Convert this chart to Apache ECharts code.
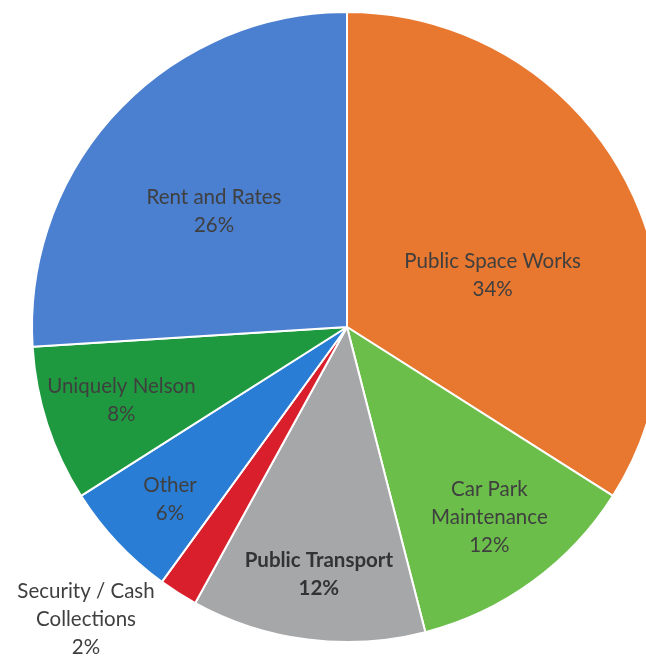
<!DOCTYPE html>
<html>
<head>
<meta charset="utf-8">
<script src="https://cdn.jsdelivr.net/npm/echarts@6/dist/echarts.min.js"></script>
<style>
html,body{margin:0;padding:0;background:#fff;}
#c{width:646px;height:656px;}
</style>
</head>
<body>
<div id="c"></div>
<script>
var categories = ['Public Space Works', 'Car Park\nMaintenance', 'Public Transport', 'Security / Cash\nCollections', 'Other', 'Uniquely Nelson', 'Rent and Rates'];
var values = [34, 12, 12, 2, 6, 8, 26];
var colors = ['#E8772F', '#6CBE4A', '#A6A7A9', '#D81F2B', '#2A7DD4', '#1F993F', '#4B7FCF'];
var labelOffsets = [[5, 26], [48, 61], [-8, 88], [-175, 157], [-60, 63], [-73, 24], [-16, -6]];
var boldLabel = [false, false, true, false, false, false, false];

var data = categories.map(function (c, i) {
  return {
    name: c,
    value: values[i],
    itemStyle: { color: colors[i] },
    label: {
      offset: labelOffsets[i],
      fontWeight: boldLabel[i] ? 'bold' : 'normal',
      color: boldLabel[i] ? '#333333' : '#3f3f3f'
    }
  };
});

var chart = echarts.init(document.getElementById('c'), null, { renderer: 'canvas' });
chart.setOption({
  animation: false,
  backgroundColor: '#ffffff',
  series: [{
    type: 'pie',
    center: [347, 327],
    radius: [0, 315],
    startAngle: 90,
    clockwise: true,
    avoidLabelOverlap: false,
    itemStyle: { borderColor: '#ffffff', borderWidth: 2 },
    label: {
      show: true,
      position: 'inside',
      formatter: '{b}\n{d}%',
      fontFamily: 'Lato, "Open Sans", sans-serif',
      fontSize: 20.5,
      lineHeight: 28,
      align: 'center'
    },
    labelLine: { show: false },
    emphasis: { disabled: true },
    data: data
  }]
});
</script>
</body>
</html>
